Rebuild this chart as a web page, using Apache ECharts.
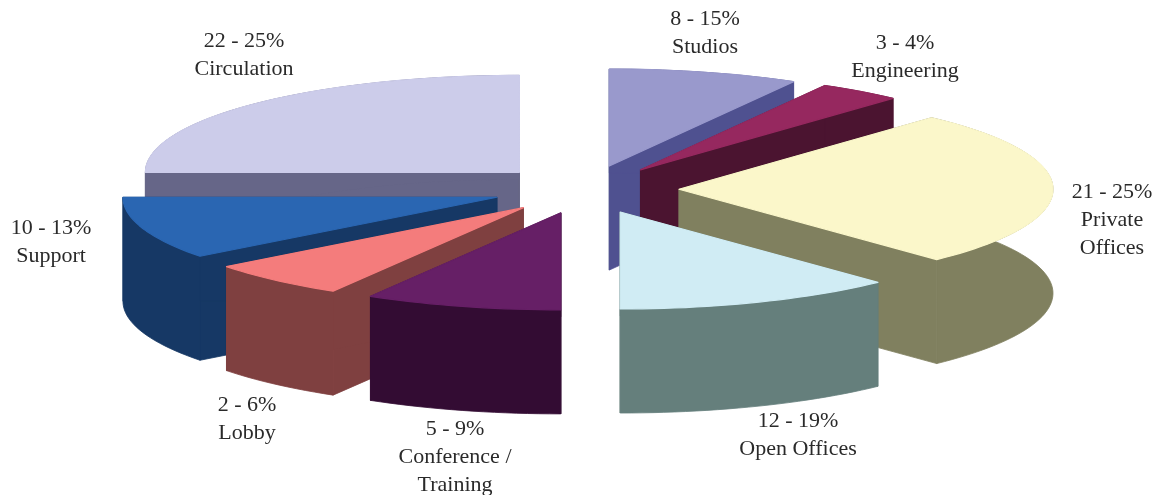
<!DOCTYPE html>
<html>
<head>
<meta charset="utf-8">
<style>html,body{margin:0;padding:0;background:#fff}#c{width:1162px;height:495px}</style>
<script src="https://cdn.jsdelivr.net/npm/echarts@6/dist/echarts.min.js"></script>
</head>
<body>
<div id="c"></div>
<script>
// Slices in clockwise order from 12 o'clock; shares.
const categories = ['Studios', 'Engineering', 'Private\nOffices', 'Open Offices', 'Conference /\nTraining', 'Lobby', 'Support', 'Circulation'];
const rangeLabels = ['8 - 15%', '3 - 4%', '21 - 25%', '12 - 19%', '5 - 9%', '2 - 6%', '10 - 13%', '22 - 25%'];
const shares = [8.2, 3.6, 26.1, 12.1, 8.5, 6.1, 10.4, 25];

// Styling / layout
const topColors = ['#9999cc', '#96285f', '#fbf7ca', '#d0ecf4', '#661f66', '#f47c7c', '#2a66b2', '#ccccea'];
const sideColors = ['#4f5190', '#4b1430', '#80805f', '#657f7c', '#330c33', '#7f4040', '#163865', '#666688'];
const paintOrder = [7, 0, 1, 2, 6, 5, 3, 4];
const labelAnchors = [[705, 33], [905, 57.5], [1112, 220], [798, 435], [455, 457], [247, 419], [51, 242], [244, 55]];
const pie = { cx: 585.5, cy: 189.5, rx: 374, ry: 97, depth: 104, explode: 0.25 };
const fontFamily = '"Liberation Serif", serif';
const fontSize = 22;
const lineHeight = 28;

const total = shares.reduce((a, b) => a + b, 0);
const startAngles = [];
shares.reduce((acc, v, i) => { startAngles[i] = acc / total * Math.PI * 2; return acc + v; }, 0);

function ellipsePoint(ax, ay, theta) {
  return [ax + pie.rx * Math.sin(theta), ay - pie.ry * Math.cos(theta)];
}

function renderItem(params, api) {
  const i = api.value(0);
  const start = startAngles[i];
  const sweep = api.value(1) / total * Math.PI * 2;
  const end = start + sweep;
  const mid = (start + end) / 2;
  const ax = pie.cx + pie.explode * pie.rx * Math.sin(mid);
  const ay = pie.cy - pie.explode * pie.ry * Math.cos(mid);
  const steps = Math.max(4, Math.ceil(sweep / 0.03));
  const arc = [];
  for (let s = 0; s <= steps; s++) arc.push(ellipsePoint(ax, ay, start + sweep * s / steps));
  const down = p => [p[0], p[1] + pie.depth];
  const apex = [ax, ay];
  const z2 = paintOrder.indexOf(i) * 10;
  const first = arc[0], last = arc[arc.length - 1];
  const side = { fill: sideColors[i], stroke: sideColors[i], lineWidth: 0.8, lineJoin: 'round' };
  const children = [
    { type: 'polygon', z2: z2, shape: { points: [apex, first, down(first), down(apex)] }, style: side },
    { type: 'polygon', z2: z2, shape: { points: [apex, last, down(last), down(apex)] }, style: side },
    { type: 'polygon', z2: z2, shape: { points: arc.concat(arc.slice().reverse().map(down)) }, style: side },
    { type: 'polygon', z2: z2 + 1, shape: { points: [apex].concat(arc) },
      style: { fill: topColors[i], stroke: topColors[i], lineWidth: 1.2, lineJoin: 'round' } },
    { type: 'text', z2: 200, style: {
        x: labelAnchors[i][0], y: labelAnchors[i][1],
        text: rangeLabels[i] + '\n' + categories[i],
        fill: '#2a2a2a', font: fontSize + 'px ' + fontFamily,
        lineHeight: lineHeight, align: 'center', verticalAlign: 'middle'
    } }
  ];
  return { type: 'group', children: children };
}

const chart = echarts.init(document.getElementById('c'), null, { renderer: 'canvas' });
chart.setOption({
  animation: false,
  backgroundColor: '#ffffff',
  series: [{
    type: 'custom',
    coordinateSystem: 'none',
    renderItem: renderItem,
    encode: { value: 1 },
    data: shares.map((v, i) => ({ name: categories[i], value: [i, v] }))
  }]
});
</script>
</body>
</html>
